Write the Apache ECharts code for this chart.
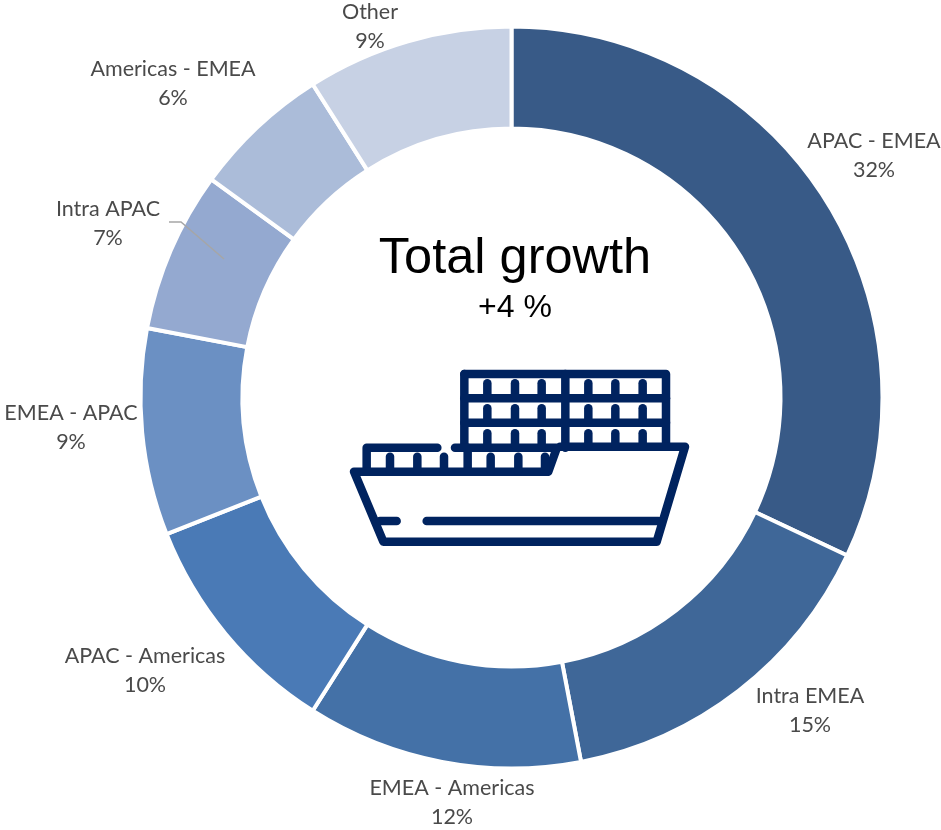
<!DOCTYPE html>
<html>
<head>
<meta charset="utf-8">
<title>Total growth by trade route</title>
<script src="https://cdn.jsdelivr.net/npm/echarts@6/dist/echarts.min.js"></script>
<style>
html,body{margin:0;padding:0;background:#fff}
#chart{width:941px;height:830px}
</style>
</head>
<body>
<div id="chart"></div>
<script>
// Trade routes and their share of total growth, in percent
const routes = ['APAC - EMEA','Intra EMEA','EMEA - Americas','APAC - Americas','EMEA - APAC','Intra APAC','Americas - EMEA','Other'];
const shares = [32,15,12,10,9,7,6,9];
const sliceColors = ['#385A87','#3F6798','#4471A7','#4A7AB6','#6B90C3','#94A9D0','#ABBCD9','#C7D1E4'];

// Centre of each two-line route label, in pixels
const labelSpots = [[874,156],[810,711],[452,803],[145,671],[71,428],[108,224],[173,84],[370,27]];

// Ship icon strokes, on a 3x grid anchored at the icon's corner
const iconOrigin = [330,350];
const shipStrokes = [
  [[403,72],[1008,72],[1008,290]],
  [[403,72],[403,293]],
  [[413,293],[413,365]],
  [[403,145],[1008,145]],
  [[403,218],[1008,218]],
  [[706,72],[706,293]],
  [[110,365],[110,293],[322,293]],
  [[375,293],[680,293]],
  [[690,290],[1065,290],[980,575],[160,575],[72,365],[655,365],[680,295]],
  [[150,513],[200,513]],
  [[290,513],[985,513]],
  ...[472,555,635,775,856,938].flatMap(x => [[[x,100],[x,135]],[[x,175],[x,210]],[[x,250],[x,285]]]),
  ...[180,262,342,482,565,645].map(x => [[x,320],[x,362]])
];
const leaderLine = [[169,222],[181,222],[224,259]];

const toPage = p => [iconOrigin[0] + p[0] / 3, iconOrigin[1] + p[1] / 3];

const chart = echarts.init(document.getElementById('chart'), null, {renderer:'canvas'});
chart.setOption({
  animation:false,
  backgroundColor:'#fff',
  color:sliceColors,
  series:[{
    type:'pie',
    center:[511.5,397.5],
    radius:[269,371],
    startAngle:90,
    clockwise:true,
    avoidLabelOverlap:false,
    silent:true,
    data:routes.map((name,i)=>({name,value:shares[i]})),
    itemStyle:{borderColor:'#fff',borderWidth:4},
    label:{
      show:true,
      position:'outside',
      formatter:'{b}\n{c}%',
      fontFamily:'Lato',
      fontSize:21.5,
      lineHeight:29,
      color:'#4A4A4A',
      align:'center'
    },
    labelLine:{show:false},
    labelLayout:params=>({
      x:labelSpots[params.dataIndex][0],
      y:labelSpots[params.dataIndex][1],
      align:'center',
      verticalAlign:'middle'
    })
  }],
  graphic:[
    {type:'text',x:515,y:259,z:10,style:{text:'Total growth',fontFamily:'Liberation Sans',fontSize:50.5,fill:'#000',align:'center',verticalAlign:'middle'}},
    {type:'text',x:515,y:308,z:10,style:{text:'+4 %',fontFamily:'Liberation Sans',fontSize:32,fill:'#000',align:'center',verticalAlign:'middle'}},
    {type:'polyline',z:10,shape:{points:leaderLine},style:{stroke:'#A6A6A6',lineWidth:1.5,fill:null}},
    ...shipStrokes.map(points=>({
      type:'polyline',z:10,
      shape:{points:points.map(toPage)},
      style:{stroke:'#00235F',lineWidth:8.5,lineCap:'round',lineJoin:'round',fill:null}
    }))
  ]
});
</script>
</body>
</html>
